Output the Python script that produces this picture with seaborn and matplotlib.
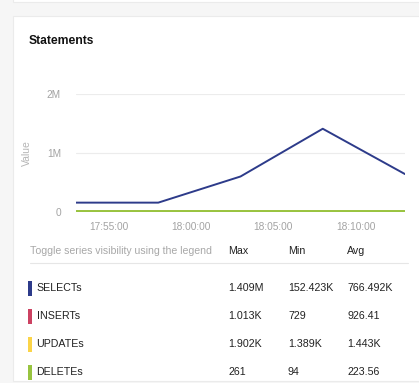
import matplotlib
matplotlib.use("Agg")
import matplotlib.pyplot as plt
import matplotlib.dates as mdates
from matplotlib.colors import to_hex
import seaborn as sns
import pandas as pd
import numpy as np
from matplotlib.patches import Rectangle

# data (5 min samples)
times = ["17:53", "17:58", "18:03", "18:08", "18:13"]
selects = [152423, 152423, 597000, 1409000, 638000]
inserts = [729, 880, 1013, 960, 1005]
updates = [1389, 1420, 1902, 1450, 1402]
deletes = [94, 230, 261, 250, 240]

series_names = ["SELECTs", "INSERTs", "UPDATEs", "DELETEs"]
colors = ["#2d3b8a", "#cc4262", "#fbd448", "#98c440"]

# summary table
tbl_max = ["1.409M", "1.013K", "1.902K", "261"]
tbl_min = ["152.423K", "729", "1.389K", "94"]
tbl_avg = ["766.492K", "926.41", "1.443K", "223.56"]

ts = pd.to_datetime(["2023-01-01 " + t for t in times])
dfr = pd.DataFrame({
    "time": list(ts) * 4,
    "value": selects + inserts + updates + deletes,
    "series": sum([[s] * len(ts) for s in series_names], []),
})

sns.set_style("white")
plt.rcParams["font.family"] = ["Liberation Sans", "DejaVu Sans"]

W, H = 419, 383
fig = plt.figure(figsize=(W / 100, H / 100), dpi=100)
fig.patch.set_facecolor("#f6f6f6")

def fx(px):
    return px / W

def fy(py):
    return 1 - py / H

# white cards
fig.patches.append(Rectangle((fx(13), fy(381)), 1, (381 - 16) / H, transform=fig.transFigure,
                             facecolor="white", edgecolor="#ebebeb", lw=0.8, zorder=-2))
fig.patches.append(Rectangle((fx(13), fy(1.5)), 1, 0.1, transform=fig.transFigure,
                             facecolor="white", edgecolor="#ebebeb", lw=0.8, zorder=-2))

fig.text(fx(29), fy(41), "Statements", fontsize=8.7, fontweight="bold", color="#111111", va="center")

ax = fig.add_axes([fx(76), fy(211.6), fx(405 - 76), (211.6 - 94) / H])
ax.set_zorder(2)
ax.set_facecolor("none")
sns.lineplot(data=dfr, x="time", y="value", hue="series", palette=colors,
             hue_order=series_names, linewidth=1.4, legend=False, ax=ax)
# stack order like the original: deletes on top, hiding the other small series
for ln in ax.lines:
    c = to_hex(ln.get_color())
    if c in colors:
        ln.set_zorder(3 + colors.index(c))
        if c == colors[3]:
            ln.set_linewidth(2.2)

ax.set_xlim(ts[0], ts[-1])
ax.set_ylim(0, 2000000)
ax.set_yticks([0, 1000000, 2000000])
ax.set_yticklabels(["0", "1M", "2M"])
ax.xaxis.set_major_locator(mdates.MinuteLocator(byminute=[55, 0, 5, 10]))
ax.xaxis.set_major_formatter(mdates.DateFormatter("%H:%M:%S"))
ax.grid(axis="y", color="#ececec", lw=0.8)
ax.set_axisbelow(True)
for s in ["top", "right", "left", "bottom"]:
    ax.spines[s].set_visible(False)
ax.tick_params(axis="x", colors="#ccd6eb", length=6.5, width=0.8, pad=1,
               labelsize=7.3, labelcolor="#a3a3a3")
ax.tick_params(axis="y", length=0, pad=10.8, labelsize=7.3, labelcolor="#a3a3a3")
ax.set_xlabel("")
ax.set_ylabel("Value", fontsize=7.5, color="#b5b5b5")
ax.yaxis.set_label_coords((32 - 76) / 329, 0.5)

# legend table
fig.text(fx(30), fy(250.5), "Toggle series visibility using the legend", fontsize=7.6,
         color="#a8a8a8", va="center")
for x, h in zip([228, 288, 347], ["Max", "Min", "Avg"]):
    fig.text(fx(x), fy(250.5), h, fontsize=7.7, color="#222222", va="center")
fig.add_artist(plt.Line2D([fx(30), fx(408)], [fy(262.5), fy(262.5)], color="#e6e6e6", lw=0.8))

row_y = [288.3, 316.2, 344.2, 372.3]
for i, name in enumerate(series_names):
    y = row_y[i]
    fig.patches.append(Rectangle((fx(28), fy(y + 7.5)), 3.5 / W, 15 / H, transform=fig.transFigure,
                                 facecolor=colors[i], edgecolor="none"))
    fig.text(fx(36.5), fy(y), name, fontsize=7.7, color="#222222", va="center")
    for x, v in zip([228, 288, 347], [tbl_max[i], tbl_min[i], tbl_avg[i]]):
        fig.text(fx(x), fy(y), v, fontsize=7.7, color="#222222", va="center")

plt.savefig("out.png", dpi=100, facecolor=fig.get_facecolor())
